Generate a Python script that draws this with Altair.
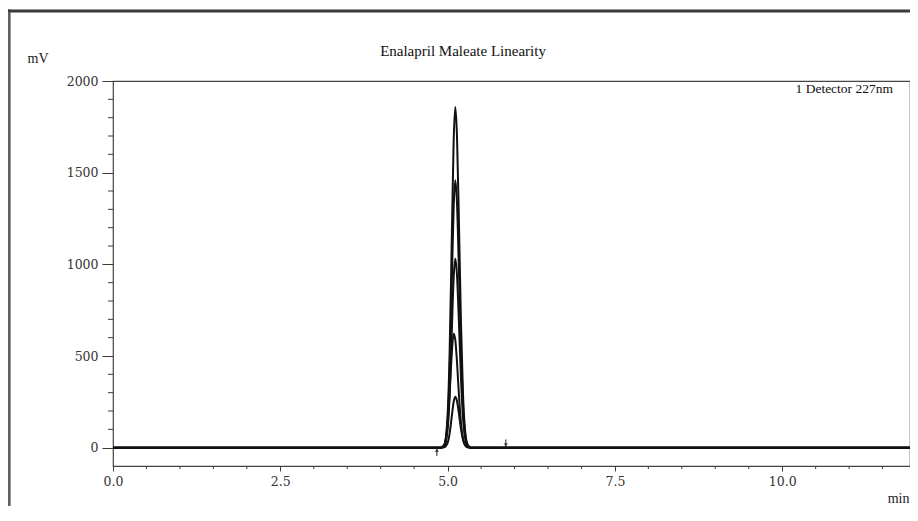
import altair as alt
import pandas as pd

# ---- data ----
times = [0.0, 4.80, 4.90, 4.95, 5.00, 5.03, 5.06, 5.09, 5.115, 5.14, 5.17, 5.20, 5.23, 5.26, 5.30, 5.35, 5.45, 12.0]
level1 = [0, 0, 0, 15, 177, 513, 1085, 1663, 1858, 1704, 1221, 680, 295, 100, 16, 0, 0, 0]
level2 = [0, 0, 0, 12, 139, 402, 851, 1305, 1458, 1337, 958, 534, 232, 79, 13, 0, 0, 0]
level3 = [0, 0, 0, 8, 98, 284, 601, 922, 1030, 944, 677, 377, 164, 56, 9, 0, 0, 0]
level4 = [0, 0, 1, 15, 124, 292, 498, 622, 588, 470, 285, 134, 50, 14, 2, 0, 0, 0]
level5 = [0, 0, 0, 2, 26, 77, 162, 249, 278, 255, 183, 102, 44, 15, 2, 0, 0, 0]
series_names = ["Level 1", "Level 2", "Level 3", "Level 4", "Level 5"]

marker_times = [4.84, 5.87]
marker_tops = [-45, 45]
marker_heads = [-14, 14]
marker_shapes = ["triangle-up", "triangle-down"]

x_major = [0.0, 2.5, 5.0, 7.5, 10.0]
x_minor = [0.5, 1.0, 1.5, 2.0, 3.0, 3.5, 4.0, 4.5, 5.5, 6.0, 6.5, 7.0, 8.0, 8.5, 9.0, 9.5, 10.5, 11.0, 11.5]
y_major = [0, 500, 1000, 1500, 2000]
y_minor = [100, 200, 300, 400, 600, 700, 800, 900, 1100, 1200, 1300, 1400, 1600, 1700, 1800, 1900]

title_text = "Enalapril Maleate Linearity"
detector_text = "1 Detector 227nm"

rows = []
for name, vals in zip(series_names, [level1, level2, level3, level4, level5]):
    for t, v in zip(times, vals):
        rows.append({"series": name, "t": t, "mV": v})
df = pd.DataFrame(rows)
markers = pd.DataFrame({"t": marker_times, "top": marker_tops, "head": marker_heads, "shape": marker_shapes})
one = pd.DataFrame({"a": [0]})

W, H = 797, 385
SERIF = "Liberation Serif"
TICKFONT = "DejaVu Serif"
AXC = "#3a3a3a"

xscale = alt.Scale(domain=[0, 11.91], nice=False, zero=False)
yscale = alt.Scale(domain=[-100, 2000], nice=False, zero=False)

lines = alt.Chart(df).mark_line(color="#111111", strokeWidth=2, interpolate="monotone", clip=True).encode(
    x=alt.X("t:Q", scale=xscale, axis=alt.Axis(
        values=x_major, format=".1f", tickSize=5, tickColor=AXC, domain=False, grid=False,
        labelFlush=False,
        labelFont=TICKFONT, labelFontSize=12.5, labelColor="#333333", labelPadding=4,
        title="min", titleFont=SERIF, titleFontSize=14, titleFontWeight="normal", titleColor="#222222",
        titleX=W - 1, titleY=36, titleAlign="right", titleBaseline="alphabetic", titleAnchor="end")),
    y=alt.Y("mV:Q", scale=yscale, axis=alt.Axis(
        values=y_major, format="d", tickSize=11, tickColor=AXC, domain=False, grid=False,
        labelFlush=False,
        labelFont=TICKFONT, labelFontSize=12.5, labelColor="#333333", labelPadding=4,
        title="mV", titleFont=SERIF, titleFontSize=14, titleFontWeight="normal", titleColor="#222222",
        titleAngle=0, titleX=-86, titleY=-19, titleAlign="left", titleBaseline="alphabetic")),
    detail="series:N",
)

ymin = alt.Chart(pd.DataFrame({"v": y_minor})).mark_rule(color=AXC, strokeWidth=1).encode(
    y=alt.Y("v:Q", scale=yscale), x=alt.value(-5), x2=alt.value(0))
xmin = alt.Chart(pd.DataFrame({"v": x_minor})).mark_rule(color=AXC, strokeWidth=1).encode(
    x=alt.X("v:Q", scale=xscale), y=alt.value(H), y2=alt.value(H + 3))

mk_rule = alt.Chart(markers).mark_rule(color="#222222", strokeWidth=1).encode(
    x=alt.X("t:Q", scale=xscale), y=alt.Y("top:Q", scale=yscale), y2=alt.datum(0))
mk_head = alt.Chart(markers).mark_point(color="#222222", filled=True, size=18).encode(
    x=alt.X("t:Q", scale=xscale), y=alt.Y("head:Q", scale=yscale),
    shape=alt.Shape("shape:N", scale=None))

title = alt.Chart(one).mark_text(font=SERIF, fontSize=15, color="#111111", align="center",
                                 baseline="alphabetic").encode(
    x=alt.value(350), y=alt.value(-25), text=alt.value(title_text))
det = alt.Chart(one).mark_text(font=SERIF, fontSize=13.5, color="#111111", align="right",
                               baseline="alphabetic").encode(
    x=alt.value(780), y=alt.value(12), text=alt.value(detector_text))

frame_top = alt.Chart(one).mark_rule(color="#3a3a3a", strokeWidth=3).encode(
    x=alt.value(-105), x2=alt.value(W), y=alt.value(-70))
frame_left = alt.Chart(one).mark_rule(color="#3a3a3a", strokeWidth=3).encode(
    x=alt.value(-104), y=alt.value(-71.5), y2=alt.value(440))
frame_left_in = alt.Chart(one).mark_rule(color="#9a9a9a", strokeWidth=0.8).encode(
    x=alt.value(-104), y=alt.value(-69), y2=alt.value(440))

chart = alt.layer(
    frame_top, frame_left, frame_left_in, ymin, xmin, lines, mk_rule, mk_head, title, det
).properties(
    width=W, height=H,
    autosize=alt.AutoSizeParams(type="none"),
    padding={"left": 105, "top": 73, "right": 0, "bottom": 40},
    background="white",
).configure_view(stroke="#444444", strokeWidth=1.2)

chart.save("out.html", embed_options={"renderer": "svg", "actions": False})
